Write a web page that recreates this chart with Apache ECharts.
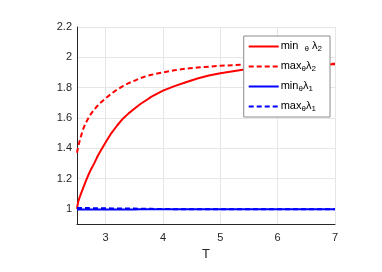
<!DOCTYPE html>
<html><head><meta charset="utf-8">
<script src="https://cdn.jsdelivr.net/npm/echarts@6/dist/echarts.min.js"></script>
<style>html,body{margin:0;padding:0;background:#fff}#c{width:382px;height:272px}</style>
</head><body><div id="c"></div>
<script>
const T =        [2.5, 2.51, 2.52, 2.54, 2.57, 2.6, 2.65, 2.7, 2.75, 2.8, 2.85, 2.9, 3.0, 3.1, 3.2, 3.3, 3.4, 3.5, 3.6, 3.7, 3.8, 3.9, 4.0, 4.2, 4.4, 4.6, 4.8, 5.0, 5.25, 5.5, 5.75, 6.0, 6.5, 7.0];
const minLam2 =  [1.0, 1.025, 1.045, 1.07, 1.10, 1.13, 1.18, 1.225, 1.265, 1.30, 1.34, 1.375, 1.44, 1.50, 1.55, 1.595, 1.63, 1.66, 1.69, 1.715, 1.74, 1.76, 1.78, 1.81, 1.835, 1.86, 1.88, 1.895, 1.91, 1.925, 1.935, 1.94, 1.95, 1.955];
const maxLam2 =  [1.37, 1.39, 1.41, 1.44, 1.48, 1.52, 1.565, 1.60, 1.63, 1.655, 1.677, 1.697, 1.73, 1.76, 1.787, 1.81, 1.83, 1.845, 1.862, 1.875, 1.885, 1.893, 1.90, 1.915, 1.925, 1.932, 1.938, 1.944, 1.949, 1.952, 1.954, 1.956, 1.957, 1.958];
const minLam1 =  [0.996, 0.996, 0.996, 0.996, 0.996, 0.996, 0.996, 0.996, 0.996, 0.996, 0.996, 0.996, 0.996, 0.996, 0.996, 0.996, 0.996, 0.996, 0.997, 0.997, 0.997, 0.997, 0.997, 0.997, 0.997, 0.997, 0.997, 0.997, 0.997, 0.997, 0.997, 0.997, 0.997, 0.997];
const maxLam1 =  [1.005, 1.005, 1.005, 1.005, 1.005, 1.005, 1.005, 1.005, 1.004, 1.004, 1.004, 1.004, 1.004, 1.003, 1.003, 1.002, 1.002, 1.0015, 1.001, 1.0005, 1.0, 0.999, 0.999, 0.998, 0.998, 0.998, 0.998, 0.998, 0.998, 0.998, 0.998, 0.998, 0.998, 0.998];
const names = ['min_θ λ_2', 'max_θλ_2', 'min_θλ_1', 'max_θλ_1'];
const labels = {
  'min_θ λ_2': '{n|min  }{s|θ}{n| λ}{s|2}',
  'max_θλ_2': '{n|max}{s|θ}{n|λ}{s|2}',
  'min_θλ_1': '{n|min}{s|θ}{n|λ}{s|1}',
  'max_θλ_1': '{n|max}{s|θ}{n|λ}{s|1}'
};
const pair = arr => T.map((t, i) => [t, arr[i]]);
const font = 'Liberation Sans';
const chart = echarts.init(document.getElementById('c'), null, {renderer: 'canvas'});
function mk(name, data, color, dashed) {
  return {
    name, type: 'line', data: pair(data), smooth: false,
    showSymbol: false, symbol: 'none',
    lineStyle: {color, width: 2, type: dashed ? [5, 3] : 'solid', join: 'round'},
    itemStyle: {color}, z: 2
  };
}
chart.setOption({
  animation: false,
  grid: {left: 77, right: 47, top: 27, bottom: 48},
  xAxis: {
    type: 'value', min: 2.5, max: 7, interval: 0.5,
    name: 'T', nameLocation: 'middle', nameGap: 23,
    nameTextStyle: {fontFamily: font, fontSize: 13, color: '#262626'},
    axisLine: {lineStyle: {color: '#262626', width: 1}},
    axisTick: {show: false},
    axisLabel: {fontFamily: font, fontSize: 11, color: '#262626', margin: 8,
      formatter: v => Number.isInteger(v) ? String(v) : ''},
    splitLine: {show: true, lineStyle: {color: ['rgba(0,0,0,0)', '#e6e6e6']}},
  },
  yAxis: {
    type: 'value', min: 0.9, max: 2.2, interval: 0.1,
    axisLine: {show: true, lineStyle: {color: '#262626', width: 1}},
    axisTick: {show: false},
    axisLabel: {fontFamily: font, fontSize: 11, color: '#262626', margin: 5,
      formatter: v => Math.abs(Math.round(v * 5) - v * 5) < 1e-6 ? String(Math.round(v * 10) / 10) : ''},
    splitLine: {show: true, lineStyle: {color: ['rgba(0,0,0,0)', '#e6e6e6']}}
  },
  legend: {
    orient: 'vertical', right: 52, top: 36, data: names,
    backgroundColor: '#fff', borderColor: '#8c8c8c', borderWidth: 1,
    padding: [4, 8, 4, 4], itemGap: 7, itemWidth: 30, itemHeight: 14,
    itemStyle: {opacity: 0, borderWidth: 0},
    formatter: n => labels[n],
    textStyle: {
      fontFamily: font, color: '#000', padding: [0, 0, 0, -3],
      rich: {
        n: {fontFamily: font, fontSize: 11, color: '#000', verticalAlign: 'top', lineHeight: 13},
        s: {fontFamily: font, fontSize: 8, color: '#000', verticalAlign: 'top', lineHeight: 9, padding: [5, 0, 0, 0]}
      }
    }
  },
  series: [
    mk(names[0], minLam2, '#ff0000', false),
    mk(names[1], maxLam2, '#ff0000', true),
    mk(names[2], minLam1, '#0000ff', false),
    mk(names[3], maxLam1, '#0000ff', true)
  ]
});
</script></body></html>
